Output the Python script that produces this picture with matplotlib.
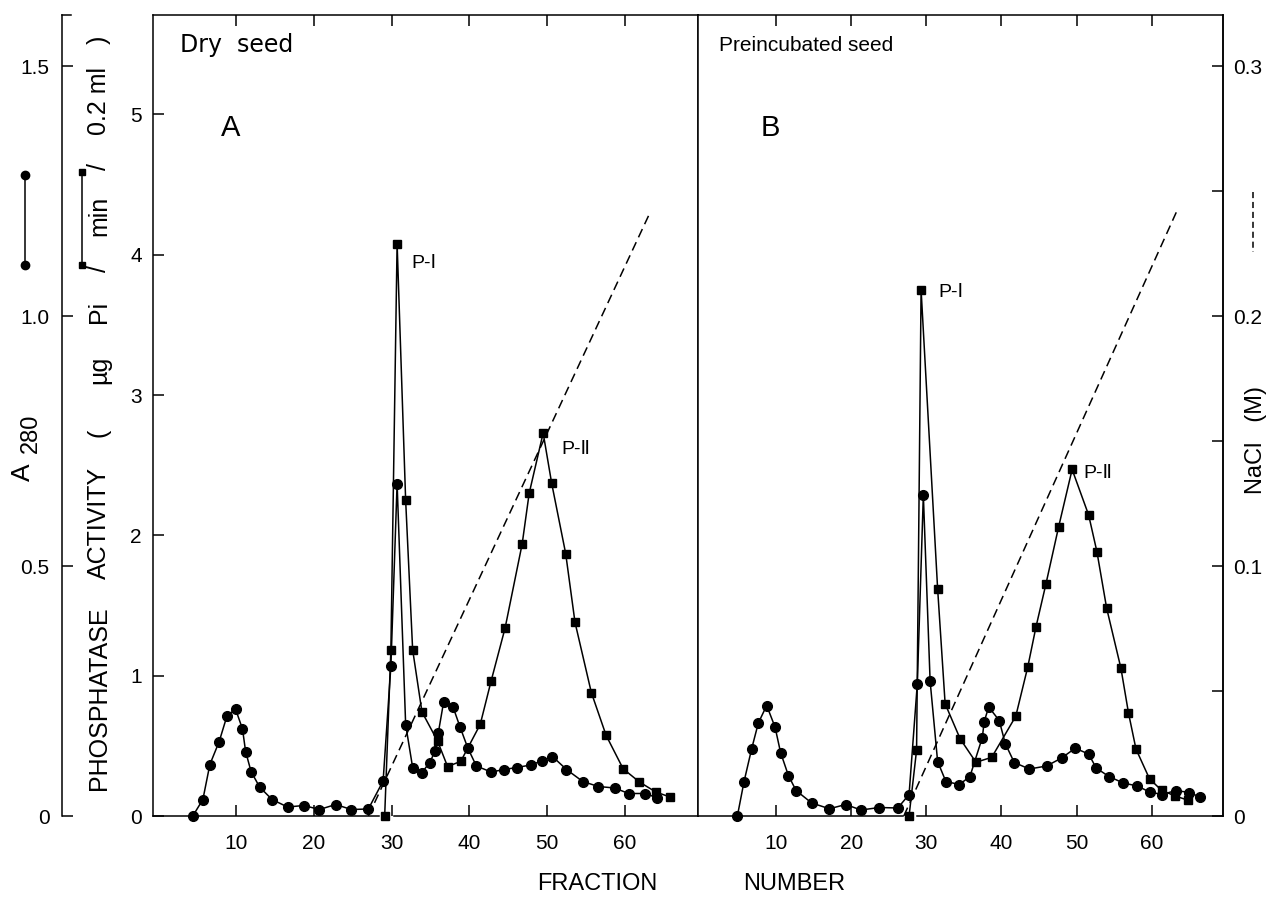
import matplotlib.pyplot as plt
from matplotlib.lines import Line2D

plt.rcParams['font.family'] = ['Liberation Sans', 'DejaVu Sans']

# ---- panel A : dry seed ----
a_frac_abs = [4.4, 5.7, 6.6, 7.8, 8.8, 9.9, 10.8, 11.2, 11.9, 13.0, 14.6, 16.6, 18.7, 20.7,
              22.8, 24.8, 27.0, 28.9, 29.9, 30.7, 31.8, 32.7, 33.9, 34.9, 35.6, 36.0, 36.7,
              37.9, 38.8, 39.8, 40.9, 42.8, 44.5, 46.1, 47.9, 49.3, 50.7, 52.5, 54.6, 56.6,
              58.7, 60.5, 62.6, 64.1]
a_abs = [0.0, 0.033, 0.103, 0.149, 0.200, 0.214, 0.174, 0.129, 0.089, 0.058, 0.033, 0.018,
         0.021, 0.013, 0.023, 0.013, 0.014, 0.070, 0.300, 0.665, 0.183, 0.097, 0.087, 0.107,
         0.130, 0.166, 0.229, 0.218, 0.178, 0.136, 0.100, 0.088, 0.093, 0.097, 0.102, 0.110,
         0.119, 0.093, 0.069, 0.059, 0.056, 0.045, 0.045, 0.037]
a_frac_act = [29.1, 29.9, 30.7, 31.8, 32.7, 33.9, 35.9, 37.2, 38.9, 41.4, 42.8, 44.6, 46.8,
              47.7, 49.5, 50.6, 52.4, 53.6, 55.7, 57.6, 59.8, 61.9, 64.0, 65.8]
a_act = [0.0, 1.185, 4.08, 2.25, 1.185, 0.742, 0.535, 0.352, 0.39, 0.653, 0.962, 1.34, 1.94,
         2.30, 2.73, 2.37, 1.87, 1.38, 0.88, 0.575, 0.336, 0.242, 0.171, 0.136]
a_frac_nacl = [27.0, 63.2]
a_nacl = [0.0, 0.241]

# ---- panel B : preincubated seed ----
b_frac_abs = [4.85, 5.74, 6.76, 7.64, 8.75, 9.86, 10.6, 11.64, 12.66, 14.74, 17.1, 19.27, 21.3,
              23.75, 26.2, 27.7, 28.8, 29.6, 30.5, 31.5, 32.6, 34.4, 35.8, 37.45, 37.7, 38.3,
              39.7, 40.5, 41.7, 43.7, 46.0, 48.0, 49.8, 51.6, 52.6, 54.3, 56.2, 58.1, 59.7,
              61.4, 63.2, 65.0, 66.4]
b_abs = [0.0, 0.069, 0.135, 0.186, 0.221, 0.178, 0.127, 0.081, 0.051, 0.026, 0.0145, 0.023,
         0.012, 0.017, 0.016, 0.043, 0.265, 0.642, 0.27, 0.109, 0.069, 0.063, 0.079, 0.157,
         0.189, 0.218, 0.191, 0.145, 0.107, 0.094, 0.10, 0.116, 0.1355, 0.124, 0.096, 0.079,
         0.066, 0.06, 0.048, 0.043, 0.051, 0.047, 0.038]
b_frac_act = [27.7, 28.7, 29.3, 31.5, 32.5, 34.5, 36.6, 38.7, 41.9, 43.5, 44.6, 45.9, 47.6,
              49.4, 51.6, 52.7, 54.0, 55.9, 56.9, 57.9, 59.7, 61.3, 63.1, 64.8]
b_act = [0.0, 0.47, 3.75, 1.62, 0.80, 0.55, 0.383, 0.418, 0.711, 1.063, 1.35, 1.65, 2.06,
         2.47, 2.145, 1.884, 1.48, 1.052, 0.735, 0.477, 0.265, 0.183, 0.143, 0.113]
b_frac_nacl = [27.0, 63.4]
b_nacl = [0.0, 0.2424]

act_ticks = [0, 1, 2, 3, 4, 5]
abs_ticks = [0, 0.5, 1.0, 1.5]
abs_labels = ['0', '0.5', '1.0', '1.5']
nacl_ticks = [0, 0.1, 0.2, 0.3]
nacl_labels = ['0', '0.1', '0.2', '0.3']
frac_ticks = [10, 20, 30, 40, 50, 60]

W, H = 1273, 899
fig = plt.figure(figsize=(W / 100, H / 100), dpi=100)


def fx(px):
    return px / W


def fy(py):
    return 1 - py / H


Y0, Y1 = 816, 15
LW = 1.1
ACT_MAX = 5.709
ABS_MAX = 1.602
NACL_MAX = 0.3204


def panel(left, right, xlim, fa, ya, fc, yc, fn, yn, gap):
    ax = fig.add_axes([fx(left), fy(Y0), fx(right) - fx(left), fy(Y1) - fy(Y0)])
    ax.set_xlim(*xlim)
    ax.set_ylim(0, ACT_MAX)
    for s in ax.spines.values():
        s.set_linewidth(LW)
    # baseline is broken just before fraction 30
    ax.spines['bottom'].set_visible(False)
    ax.plot([xlim[0], gap[0]], [0, 0], color='k', lw=LW, clip_on=False)
    ax.plot([gap[1], xlim[1]], [0, 0], color='k', lw=LW, clip_on=False)
    ax.set_xticks(frac_ticks)
    ax.tick_params(axis='x', direction='in', length=8, width=LW, top=True,
                   labelsize=15, pad=13)
    ax.plot(fc, yc, color='k', lw=LW, marker='s', ms=6, zorder=3, clip_on=False)

    ta = ax.twinx()
    ta.set_ylim(0, ABS_MAX)
    ta.plot(fa, ya, color='k', lw=LW, marker='o', ms=7, zorder=3, clip_on=False)
    ta.set_yticks([])
    for s in ta.spines.values():
        s.set_visible(False)

    tn = ax.twinx()
    tn.set_ylim(0, NACL_MAX)
    tn.plot(fn, yn, color='k', lw=LW, dashes=(6, 3.5))
    for s in tn.spines.values():
        s.set_visible(False)
    return ax, ta, tn


axA, taA, tnA = panel(153, 698, (-0.72, 69.43), a_frac_abs, a_abs, a_frac_act, a_act,
                      a_frac_nacl, a_nacl, (28.4, 30.3))
axB, taB, tnB = panel(698, 1223, (-0.39, 69.48), b_frac_abs, b_abs, b_frac_act, b_act,
                      b_frac_nacl, b_nacl, (26.9, 28.7))

# activity axis on the left of panel A
axA.set_yticks(act_ticks)
axA.tick_params(axis='y', direction='in', length=8, width=LW, labelsize=15, pad=8)
tnA.set_yticks([])
axB.set_yticks([])

# NaCl axis on the right of panel B
tnB.spines['right'].set_visible(True)
tnB.spines['right'].set_linewidth(LW)
tnB.set_yticks(nacl_ticks)
tnB.set_yticklabels(nacl_labels)
tnB.set_yticks([0.05, 0.15, 0.25], minor=True)
tnB.tick_params(axis='y', which='both', direction='in', length=8, width=LW,
                labelsize=15, pad=7)

# separate A280 axis at far left
axL = fig.add_axes([fx(62), fy(Y0), fx(71) - fx(62), fy(Y1) - fy(Y0)])
axL.set_ylim(0, ABS_MAX)
axL.set_xticks([])
axL.set_yticks(abs_ticks)
axL.set_yticklabels(abs_labels)
axL.tick_params(axis='y', direction='in', length=8, width=LW, labelsize=15, pad=9)
axL.spines['right'].set_visible(False)
axL.spines['bottom'].set_visible(False)
axL.spines['left'].set_linewidth(LW)
axL.spines['top'].set_linewidth(LW)
axL.patch.set_visible(False)

# panel texts
axA.text(0.05, 0.9625, 'Dry  seed', transform=axA.transAxes, family='DejaVu Sans',
         fontsize=17, va='center')
axB.text(0.04, 0.9625, 'Preincubated seed', transform=axB.transAxes, fontsize=15,
         va='center')
axA.text(0.142, 0.859, 'A', transform=axA.transAxes, fontsize=21, ha='center', va='center')
axB.text(0.137, 0.859, 'B', transform=axB.transAxes, fontsize=21, ha='center', va='center')

pk = ['Liberation Sans', 'DejaVu Sans']
axA.text(32.6, 3.94, 'P-Ⅰ', fontsize=14, va='center', family=pk)
axA.text(51.8, 2.61, 'P-Ⅱ', fontsize=14, va='center', family=pk)
axB.text(31.6, 3.73, 'P-Ⅰ', fontsize=14, va='center', family=pk)
axB.text(50.85, 2.44, 'P-Ⅱ', fontsize=14, va='center', family=pk)

# activity axis title, spread out as in the original
act_words = ['PHOSPHATASE', 'ACTIVITY', '(', 'µg', 'Pi', '/', 'min', '/', '0.2 ml', ')']
act_word_y = [698, 523, 433, 370, 312, 268, 216, 166, 101, 40]
for w, py in zip(act_words, act_word_y):
    fig.text(fx(99), fy(py), w, rotation=90, ha='center', va='center', fontsize=18)

# A280 with a large subscript
fig.text(fx(23), fy(472), 'A', rotation=90, ha='center', va='center', fontsize=19)
fig.text(fx(31), fy(433), '280', rotation=90, ha='center', va='center', fontsize=17)

fig.text(fx(1256), fy(440), 'NaCl   (M)', rotation=90, ha='center', va='center',
         fontsize=17)
fig.text(fx(597), fy(884), 'FRACTION', ha='center', va='center', fontsize=17)
fig.text(fx(794), fy(884), 'NUMBER', ha='center', va='center', fontsize=17)

# symbol keys
fig.add_artist(Line2D([fx(25), fx(25)], [fy(175), fy(265)], transform=fig.transFigure,
                      color='k', lw=LW, marker='o', ms=6))
fig.add_artist(Line2D([fx(82), fx(82)], [fy(172), fy(265)], transform=fig.transFigure,
                      color='k', lw=LW, marker='s', ms=5))
fig.add_artist(Line2D([fx(1253), fx(1253)], [fy(192), fy(252)], transform=fig.transFigure,
                      color='k', lw=LW, dashes=(4, 2.5)))

fig.savefig('out.png', dpi=100)
